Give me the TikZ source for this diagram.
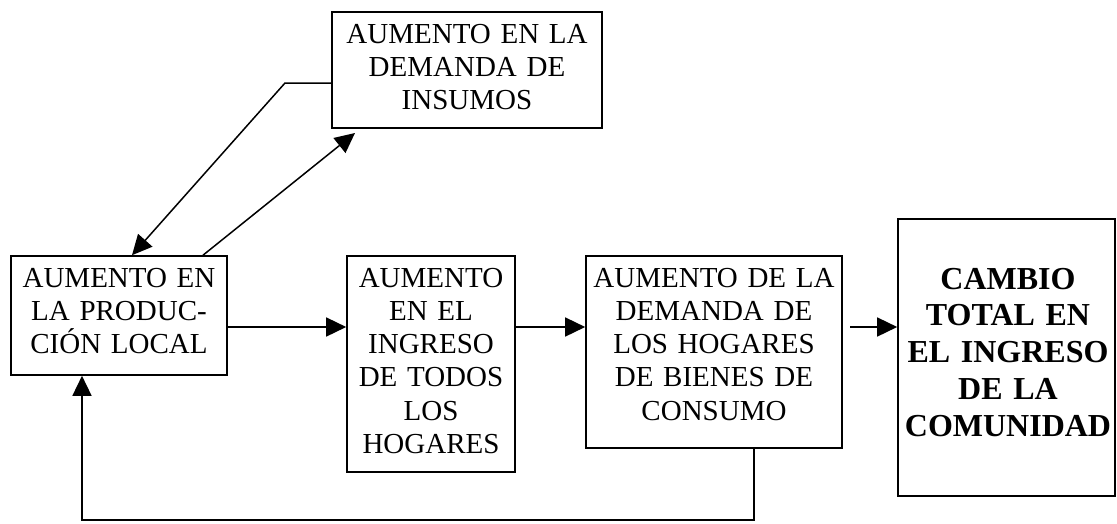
\documentclass[tikz,border=0pt]{standalone}
\usepackage{fontspec}
\setmainfont{Liberation Serif}
\usetikzlibrary{arrows.meta}
\begin{document}
\begin{tikzpicture}[x=1pt,y=-1pt,
  box/.style={draw, line width=1.6pt, inner sep=0pt, rectangle},
  txt/.style={inner sep=0pt, align=center, anchor=base, font=\fontsize{29}{33.3}\selectfont},
  btxt/.style={inner sep=0pt, align=center, anchor=base, font=\bfseries\fontsize{32}{36.8}\selectfont},
  conn/.style={line width=1.5pt},
  tip/.style={-{Triangle[length=20pt,width=19pt]}}]
\useasboundingbox (0,0) rectangle (1117,523);
% boxes
\node[box, minimum width=270pt, minimum height=116pt] (ins) at (467,70) {};
\node[box, minimum width=216pt, minimum height=119pt] (b1) at (119,315.5) {};
\node[box, minimum width=168pt, minimum height=216pt] (b2) at (431,364) {};
\node[box, minimum width=256pt, minimum height=192pt] (b3) at (714,352) {};
\node[box, minimum width=217pt, minimum height=277pt] (b4) at (1006.5,357.5) {};
% texts
\node[txt, text width=268pt] (tins) at (467,43) {AUMENTO EN LA\\DEMANDA DE\\INSUMOS};
\node[txt, text width=214pt] (t1) at (119,287) {AUMENTO EN\\LA PRODUC-\\CIÓN LOCAL};
\node[txt, text width=166pt] (t2) at (431,287) {AUMENTO\\EN EL\\INGRESO\\DE TODOS\\LOS\\HOGARES};
\node[txt, text width=254pt] (t3) at (714,287) {AUMENTO DE LA\\DEMANDA DE\\LOS HOGARES\\DE BIENES DE\\CONSUMO};
\node[btxt, text width=215pt] (t4) at (1008,289) {CAMBIO\\TOTAL EN\\EL INGRESO\\DE LA\\COMUNIDAD};
% helper coordinates
\coordinate (row) at (0,327);
\coordinate (a34) at (850,327);
\coordinate (k1) at (285,83);
\coordinate (x1) at (132,0);
\coordinate (x2) at (203,0);
\coordinate (insTip) at (355,133);
\coordinate (fbR) at (754,520);
\coordinate (fbL) at (82,520);
% main row
\draw[conn,tip] (b1.east |- row) -- (b2.west |- row);
\draw[conn,tip] (b2.east |- row) -- (b3.west |- row);
\draw[conn,tip] (a34) -- (b4.west |- a34);
% loop with insumos
\draw[conn,tip] (ins.west |- k1) -- (k1) -- (b1.north -| x1);
\draw[conn,tip] (b1.north -| x2) -- (insTip);
% feedback
\draw[line width=2.6pt, line cap=rect] (b3.south -| fbR) -- (fbR) -- (fbL);
\draw[conn,tip] (fbL) -- (b1.south -| fbL);
\end{tikzpicture}
\end{document}
